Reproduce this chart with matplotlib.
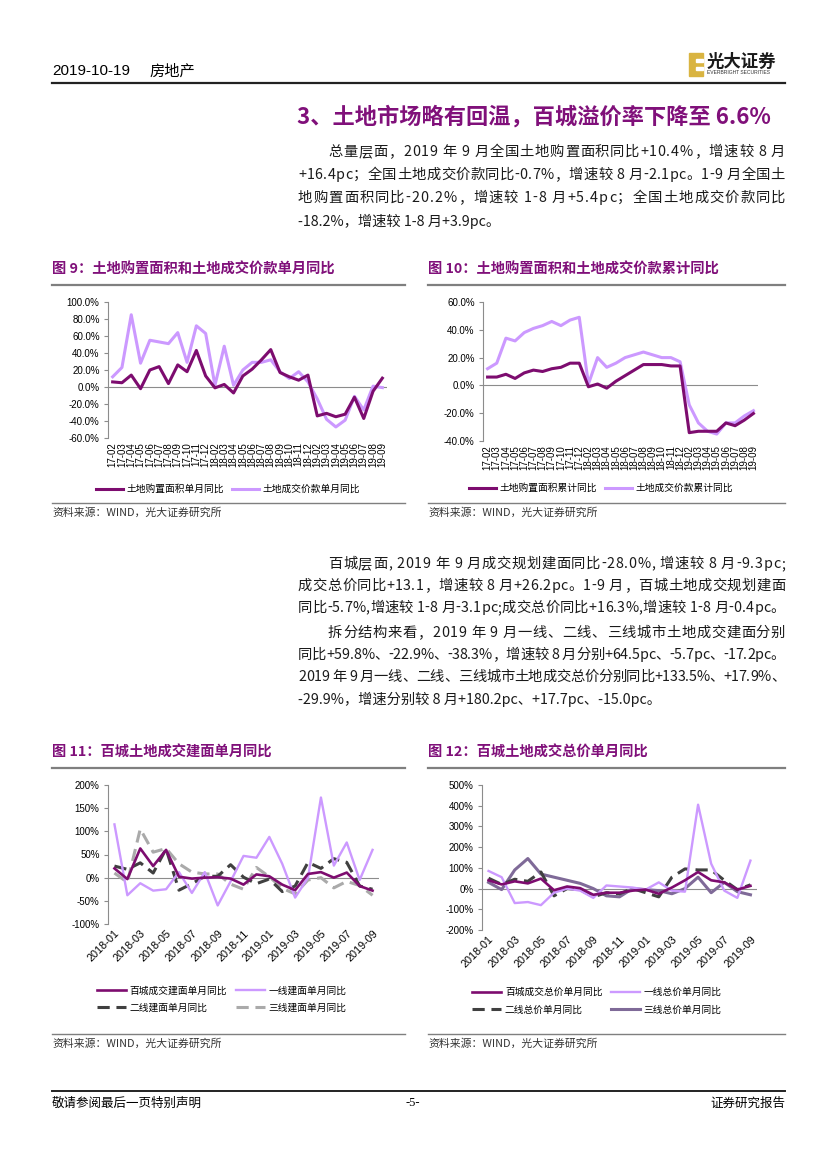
import matplotlib
matplotlib.use('Agg')
import matplotlib.pyplot as plt
from matplotlib.lines import Line2D
from matplotlib.patches import Rectangle

plt.rcParams['font.family'] = ['Noto Sans CJK SC', 'DejaVu Sans']
plt.rcParams['axes.unicode_minus'] = False

W, H = 827, 1169

# ---- data: fig 9 / fig 10 (monthly labels, Jan merged into Feb) ----
months_a = ['17-02', '17-03', '17-04', '17-05', '17-06', '17-07', '17-08', '17-09', '17-10',
            '17-11', '17-12', '18-02', '18-03', '18-04', '18-05', '18-06', '18-07', '18-08',
            '18-09', '18-10', '18-11', '18-12', '19-02', '19-03', '19-04', '19-05', '19-06',
            '19-07', '19-08', '19-09']
area_month = [6, 5, 14, -2, 20, 24, 4, 26, 18, 43, 13, -1, 3, -7, 13, 21, 32, 44,
              17, 12, 8, 14, -34, -31, -35, -32, -12, -37, -5, 10.4]
price_month = [12, 23, 85, 28, 55, 53, 51, 64, 29, 72, 63, 2, 48, 2, 20, 29, 29, 32,
               18, 10, 18, 6, -14, -38, -47, -39, -11, -27, 1, -0.7]
area_cum = [6, 6, 8, 5, 9, 11, 10, 12, 13, 16, 16, -1, 1, -2, 3, 7, 11, 15,
            15, 15, 14, 14, -34, -33, -33, -33, -27, -29, -25, -20.2]
price_cum = [12, 16, 34, 32, 38, 41, 43, 46, 43, 47, 49, 1, 20, 13, 16, 20, 22, 24,
             22, 20, 20, 17, -14, -27, -33, -35, -27, -27, -22, -18.2]

# ---- data: fig 11 / fig 12 (百城) ----
months_b = ['2018-01', '2018-02', '2018-03', '2018-04', '2018-05', '2018-06', '2018-07',
            '2018-08', '2018-09', '2018-10', '2018-11', '2018-12', '2019-01', '2019-02',
            '2019-03', '2019-04', '2019-05', '2019-06', '2019-07', '2019-08', '2019-09']
bc_area = [20, -3, 63, 25, 60, 2, -2, 0, 1, -2, -15, 7, 3, -15, -27, 8, 12, 0, 11, -18, -28]
t1_area = [115, -38, -12, -28, -25, 12, -33, 12, -60, -8, 47, 43, 88, 30, -43, 0, 173, 26, 76, -5, 60]
t2_area = [25, 18, 32, 10, 62, -27, -13, 3, 3, 28, 1, -13, -3, -30, -18, 33, 20, 41, 33, -18, -25]
t3_area = [10, -10, 105, 55, 63, 30, 12, 8, 8, -14, -25, 22, 2, -23, -35, -5, 0, -22, -8, -17, -38]

bc_price = [40, 20, 35, 25, 48, -8, 10, 2, -30, -20, -20, -10, -5, -25, 5, 40, 80, 40, 30, -5, 13]
t1_price = [85, 55, -70, -65, -80, -20, 0, -10, -45, 15, 10, 5, -5, 30, -10, -15, 405, 120, -10, -45, 135]
t2_price = [50, 20, 45, 35, 80, -35, 0, -5, -40, -20, -25, 0, -20, -40, 55, 95, 90, 90, 40, -5, 18]
t3_price = [30, -5, 90, 145, 70, 55, 40, 25, 0, -35, -40, 0, -5, -10, -25, 0, 55, -20, 30, -15, -30]

PURPLE = '#7D0C6F'
LILAC = '#CC99FF'
DGRAY = '#404040'
LGRAY = '#AAAAAA'
MPURP = '#7F6A98'
AXC = '#8C8C8C'
TITLEC = '#80107A'
LATIN = 'Liberation Sans'

fig = plt.figure(figsize=(W / 100, H / 100), dpi=100)
renderer = fig.canvas.get_renderer()


def fx(x):
    return x / W


def fy(y):
    return 1 - y / H


def text(x, y, s, **kw):
    kw.setdefault('va', 'center')
    return fig.text(fx(x), fy(y), s, **kw)


def justify(x0, x1, y, s, **kw):
    # spread the characters so the line fills x0..x1 like the justified report text
    widths = []
    for ch in s:
        t = text(0, 0, ch if ch != ' ' else 'i', **kw)
        w = t.get_window_extent(renderer).width
        widths.append(w * 0.8 if ch == ' ' else w)
        t.remove()
    gap = (x1 - x0 - sum(widths)) / (len(s) - 1)
    x = x0
    for ch, w in zip(s, widths):
        if ch != ' ':
            text(x, y, ch, **kw)
        x += w + gap


def hline(x0, x1, y, color, lw):
    fig.add_artist(Line2D([fx(x0), fx(x1)], [fy(y), fy(y)], color=color, lw=lw,
                          transform=fig.transFigure))


def box(l, t, r, b):
    return fig.add_axes([fx(l), fy(b), fx(r) - fx(l), fy(t) - fy(b)])


def style(ax, n, ylo, yhi, step, fmt):
    ax.set_xlim(-0.5, n - 0.5)
    ax.set_ylim(ylo, yhi)
    ticks = list(range(ylo, yhi + 1, step))
    ax.set_yticks(ticks)
    ax.set_yticklabels([fmt % t for t in ticks])
    for s in ['top', 'right', 'bottom']:
        ax.spines[s].set_visible(False)
    ax.spines['left'].set_color(AXC)
    ax.spines['left'].set_linewidth(0.8)
    ax.axhline(0, color=AXC, lw=0.8, zorder=1)
    ax.tick_params(axis='y', length=3, width=0.8, color=AXC, pad=3, labelsize=7,
                   labelfontfamily=LATIN)
    ax.tick_params(axis='x', length=0, pad=3, labelfontfamily=LATIN)
    ax.patch.set_alpha(0)


def legend(ax, handles, cx, cy, ncol, hl):
    ax.legend(handles, [h.get_label() for h in handles], loc='center',
              bbox_to_anchor=(fx(cx), fy(cy)), bbox_transform=fig.transFigure,
              ncol=ncol, frameon=False, fontsize=7, handlelength=hl,
              handletextpad=0.35, columnspacing=0.9, labelspacing=0.75, borderpad=0)


# ---- header ----
text(52, 71, '2019-10-19', fontsize=11, family=LATIN)
text(150, 71, '房地产', fontsize=11)
hline(52, 785, 83, '#222222', 1.6)

# logo
fig.add_artist(Rectangle((fx(689), fy(76)), fx(14), 23 / H, color='#D9B441',
                         transform=fig.transFigure))
for yy in (60, 68):
    fig.add_artist(Rectangle((fx(696), fy(yy + 2)), fx(7), 3 / H, color='white',
                             transform=fig.transFigure))
text(707, 62, '光大证券', fontsize=12.5, weight='bold', color='#1a1a1a')
text(707, 73, 'EVERBRIGHT SECURITIES', fontsize=3.6, family=LATIN, color='#333333')

# ---- section title and paragraphs ----
text(297, 117, '3、土地市场略有回温，百城溢价率下降至 6.6%', fontsize=16, weight='bold', color=TITLEC)

BODY = dict(fontsize=10.3, color='#1a1a1a')


def paragraph(lines, y0, step):
    for i, s in enumerate(lines):
        x0 = 328 if i == 0 else 298
        if i < len(lines) - 1:
            justify(x0, 785, y0 + i * step, s, **BODY)
        else:
            text(x0, y0 + i * step, s, **BODY)


para1 = ['总量层面，2019 年 9 月全国土地购置面积同比+10.4%，增速较 8 月',
         '+16.4pc；全国土地成交价款同比-0.7%，增速较 8 月-2.1pc。1-9 月全国土',
         '地购置面积同比-20.2%，增速较 1-8 月+5.4pc；全国土地成交价款同比',
         '-18.2%，增速较 1-8 月+3.9pc。']
paragraph(para1, 152, 23)

para2 = ['百城层面, 2019 年 9 月成交规划建面同比-28.0%, 增速较 8 月-9.3pc;',
         '成交总价同比+13.1，增速较 8 月+26.2pc。1-9 月，百城土地成交规划建面',
         '同比-5.7%,增速较 1-8 月-3.1pc;成交总价同比+16.3%,增速较 1-8 月-0.4pc。']
for i, s in enumerate(para2):
    justify(328 if i == 0 else 298, 785, 564 + i * 22, s, **BODY)

para3 = ['拆分结构来看，2019 年 9 月一线、二线、三线城市土地成交建面分别',
         '同比+59.8%、-22.9%、-38.3%，增速较 8 月分别+64.5pc、-5.7pc、-17.2pc。',
         '2019 年 9 月一线、二线、三线城市土地成交总价分别同比+133.5%、+17.9%、',
         '-29.9%，增速分别较 8 月+180.2pc、+17.7pc、-15.0pc。']
paragraph(para3, 633, 22)

# ---- figure titles, rules, sources ----
FT = dict(fontsize=10.3, weight='bold', color=TITLEC)
text(52, 270, '图 9：土地购置面积和土地成交价款单月同比', **FT)
text(428, 270, '图 10：土地购置面积和土地成交价款累计同比', **FT)
text(52, 753, '图 11：百城土地成交建面单月同比', **FT)
text(428, 753, '图 12：百城土地成交总价单月同比', **FT)
for y in (285, 768):
    hline(52, 405, y, '#7F7F7F', 1.6)
    hline(428, 785, y, '#7F7F7F', 1.6)
for y in (503, 1034):
    hline(52, 405, y, '#7F7F7F', 1.0)
    hline(428, 785, y, '#7F7F7F', 1.0)
    text(52, y + 10, '资料来源：WIND，光大证券研究所', fontsize=7.8, color='#333333')
    text(428, y + 10, '资料来源：WIND，光大证券研究所', fontsize=7.8, color='#333333')

# ---- footer ----
hline(52, 785, 1091, '#222222', 1.4)
text(52, 1103, '敬请参阅最后一页特别声明', fontsize=9)
text(413, 1103, '-5-', fontsize=9, ha='center', family='Liberation Serif')
text(785, 1103, '证券研究报告', fontsize=9, ha='right')

# ---- fig 9 ----
xa = list(range(len(months_a)))
ax9 = box(108, 302, 387, 438)
style(ax9, len(months_a), -60, 100, 20, '%.1f%%')
ax9.set_xticks(xa)
ax9.set_xticklabels(months_a, rotation=90, fontsize=7, va='top')
l1, = ax9.plot(xa, area_month, color=PURPLE, lw=2.2, label='土地购置面积单月同比', zorder=3)
l2, = ax9.plot(xa, price_month, color=LILAC, lw=2.2, label='土地成交价款单月同比', zorder=2)
legend(ax9, [l1, l2], 228, 489, 2, 2.7)

# ---- fig 10 ----
ax10 = box(483, 302, 758, 441)
style(ax10, len(months_a), -40, 60, 20, '%.1f%%')
ax10.set_xticks(xa)
ax10.set_xticklabels(months_a, rotation=90, fontsize=7, va='top')
l1, = ax10.plot(xa, area_cum, color=PURPLE, lw=2.2, label='土地购置面积累计同比', zorder=3)
l2, = ax10.plot(xa, price_cum, color=LILAC, lw=2.2, label='土地成交价款累计同比', zorder=2)
legend(ax10, [l1, l2], 601, 488, 2, 2.7)

# ---- fig 11 ----
xb = list(range(len(months_b)))
DASH = (0, (4.0, 2.2))
ax11 = box(108, 785, 379, 924)
style(ax11, len(months_b), -100, 200, 50, '%d%%')
ax11.set_xticks(xb[::2])
ax11.set_xticklabels(months_b[::2], rotation=45, ha='right', va='top',
                     rotation_mode='anchor', fontsize=7.8)
h1, = ax11.plot(xb, bc_area, color=PURPLE, lw=1.9, label='百城成交建面单月同比', zorder=5)
h2, = ax11.plot(xb, t1_area, color=LILAC, lw=1.7, label='一线建面单月同比', zorder=4)
h3, = ax11.plot(xb, t2_area, color=DGRAY, lw=2.2, ls=DASH, label='二线建面单月同比', zorder=3)
h4, = ax11.plot(xb, t3_area, color=LGRAY, lw=2.2, ls=DASH, label='三线建面单月同比', zorder=2)
legend(ax11, [h1, h3, h2, h4], 222, 999, 2, 3.0)

# ---- fig 12 ----
ax12 = box(482, 785, 757, 930)
style(ax12, len(months_b), -200, 500, 100, '%d%%')
ax12.set_xticks(xb[::2])
ax12.set_xticklabels(months_b[::2], rotation=45, ha='right', va='top',
                     rotation_mode='anchor', fontsize=7.8)
h1, = ax12.plot(xb, bc_price, color=PURPLE, lw=1.9, label='百城成交总价单月同比', zorder=5)
h2, = ax12.plot(xb, t1_price, color=LILAC, lw=1.7, label='一线总价单月同比', zorder=4)
h3, = ax12.plot(xb, t2_price, color=DGRAY, lw=2.2, ls=DASH, label='二线总价单月同比', zorder=3)
h4, = ax12.plot(xb, t3_price, color=MPURP, lw=2.2, label='三线总价单月同比', zorder=2)
legend(ax12, [h1, h3, h2, h4], 597, 1001, 2, 3.0)

fig.savefig('out.png', dpi=100)
